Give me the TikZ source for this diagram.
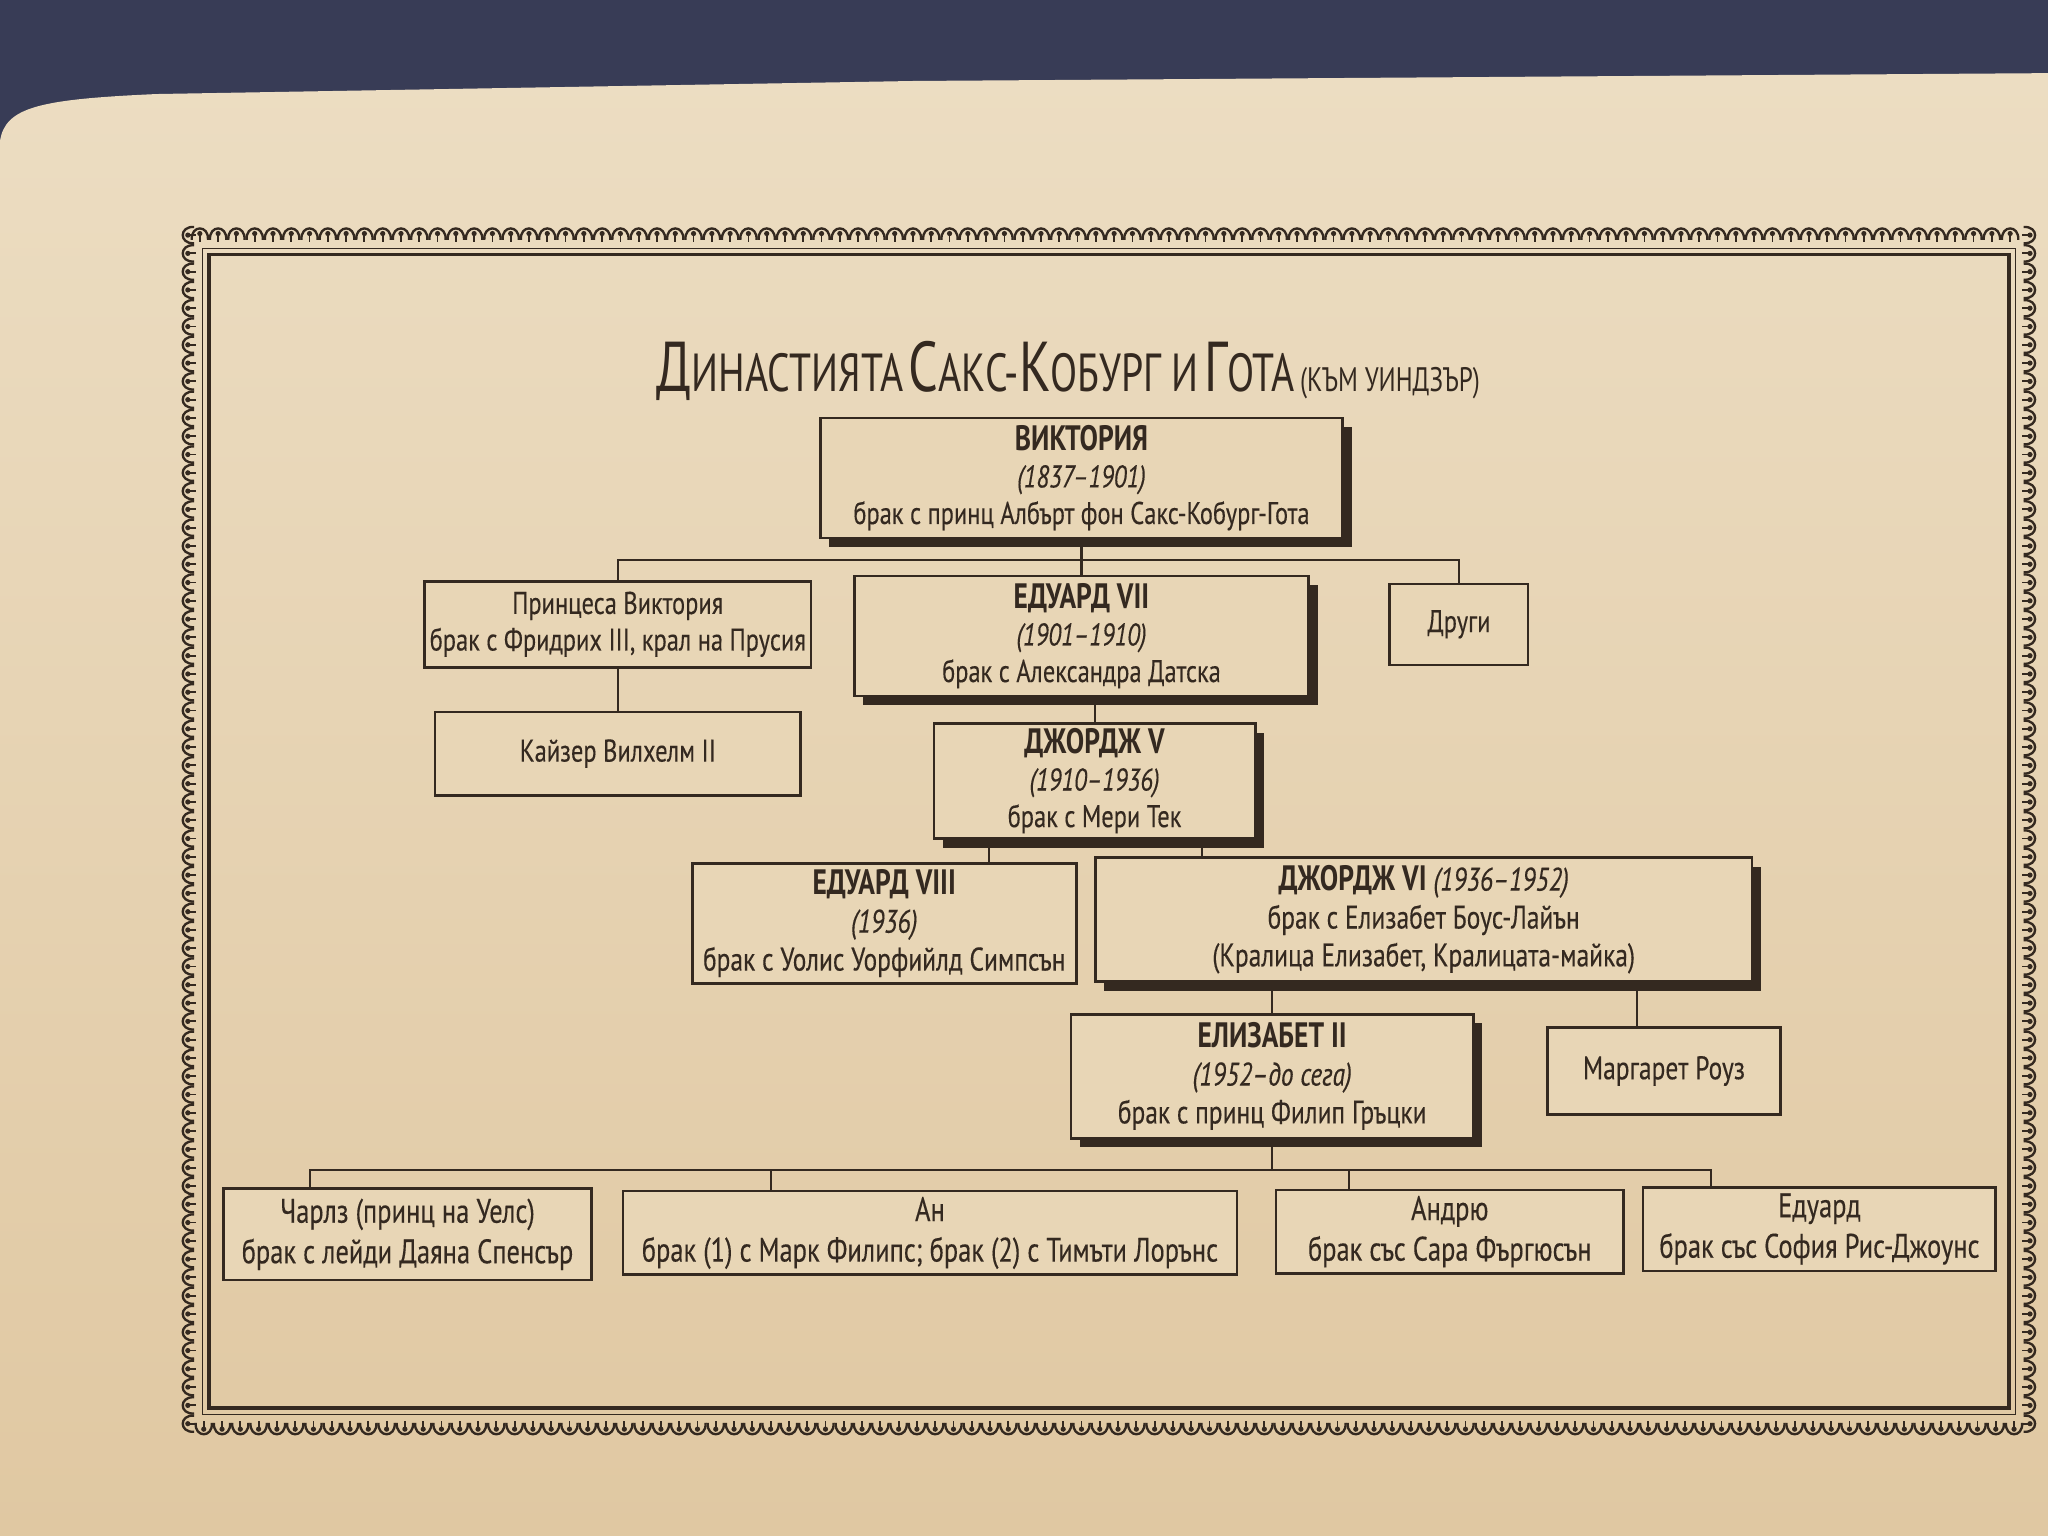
\documentclass[tikz,border=0pt]{standalone}
\usepackage{fontspec}
\setmainfont{PT Sans}[FakeStretch=0.78, UprightFeatures={FakeBold=0.25}, ItalicFeatures={FakeBold=0.25}]
\newfontfamily\titlefont{PT Sans}[FakeStretch=0.74]
\usetikzlibrary{shadows,decorations.markings}
\definecolor{navy}{RGB}{56,60,86}
\definecolor{paperlight}{RGB}{236,221,194}
\definecolor{paperdark}{RGB}{224,200,162}
\definecolor{paper}{RGB}{232,214,182}
\definecolor{ink}{RGB}{52,41,32}
\newcommand\tbig[1]{{\fontsize{27}{27}\selectfont #1}}
\newcommand\tsml[1]{{\fontsize{20.5}{20.5}\selectfont #1}}
\newcommand\ttiny[1]{{\fontsize{13}{13}\selectfont #1}}
\newcommand\hd[1]{{\fontsize{13.5}{14}\selectfont\bfseries #1}}
\begin{document}
\begin{tikzpicture}[x=0.5pt,y=-0.5pt,
  box/.style={draw=ink, line width=1pt, fill=paper, text=ink, align=center,
    font=\fontsize{12}{14}\selectfont, inner sep=0pt},
  shbox/.style={box, drop shadow={shadow xshift=3.5pt, shadow yshift=-3.5pt, opacity=1, fill=ink}},
  midrow/.style={font=\fontsize{12.5}{14.5}\selectfont},
  lowrow/.style={font=\fontsize{13}{15.5}\selectfont},
  link/.style={draw=ink, line width=0.8pt},
  ornament/.style={decoration={markings,
     mark=between positions 0 and 1 step 7pt with {
       \draw[ink, line width=0.9pt] (-3.1pt,1.8pt) .. controls (-3.5pt,-4pt) and (3.5pt,-4pt) .. (3.1pt,1.8pt);
       \fill[ink] (0,-0.6pt) circle (1pt);
       \draw[ink, line width=0.7pt] (0,0) -- (0,2.5pt);
     }}, postaction={decorate}},
]
\useasboundingbox (0,0) rectangle (1568,1176);
% background and page
\fill[navy] (0,0) rectangle (1568,1176);
\shade[top color=paperlight, bottom color=paperdark]
  (0,108) .. controls (4,82) and (30,76) .. (120,72) -- (700,62) -- (1568,56)
  -- (1568,1176) -- (0,1176) -- cycle;
% frame
\draw[ink, line width=1.3pt] (160,195) rectangle (1538,1078);
\draw[ink, line width=0.5pt] (155,190) rectangle (1543,1083);
\path[ornament] (145,180) -- (145,1093) -- (1553,1093) -- (1553,180) -- cycle;
% title
\node[text=ink, font=\titlefont, anchor=base] (title) at (818,300)
  {\tbig{Д}\tsml{ИНАСТИЯТА} \tbig{С}\tsml{АКС-}\tbig{К}\tsml{ОБУРГ И} \tbig{Г}\tsml{ОТА} \ttiny{(КЪМ УИНДЗЪР)}};
% nodes
\node[shbox, minimum width=200pt, minimum height=46pt] (vic) at (828,366)
  {\hd{ВИКТОРИЯ}\\\textit{(1837–1901)}\\брак с принц Албърт фон Сакс-Кобург-Гота};
\node[box, minimum width=148pt, minimum height=33pt] (pv) at (473,478)
  {Принцеса Виктория\\брак с Фридрих III, крал на Прусия};
\node[shbox, minimum width=174pt, minimum height=46pt] (e7) at (828,487)
  {\hd{ЕДУАРД VII}\\\textit{(1901–1910)}\\брак с Александра Датска};
\node[box, minimum width=53pt, minimum height=31pt] (drugi) at (1117,478) {Други};
\node[box, minimum width=140pt, minimum height=32pt] (kaiser) at (473,577) {Кайзер Вилхелм II};
\node[shbox, minimum width=123pt, minimum height=44pt] (g5) at (838,598)
  {\hd{ДЖОРДЖ V}\\\textit{(1910–1936)}\\брак с Мери Тек};
\node[box, midrow, minimum width=147pt, minimum height=46pt] (e8) at (677,707)
  {\hd{ЕДУАРД VIII}\\\textit{(1936)}\\брак с Уолис Уорфийлд Симпсън};
\node[shbox, midrow, minimum width=251.5pt, minimum height=47.5pt] (g6) at (1090,704)
  {\hd{ДЖОРДЖ VI} \textit{(1936–1952)}\\брак с Елизабет Боус-Лайън\\(Кралица Елизабет, Кралицата-майка)};
\node[shbox, midrow, minimum width=154pt, minimum height=47.5pt] (e2) at (974,824)
  {\hd{ЕЛИЗАБЕТ II}\\\textit{(1952–до сега)}\\брак с принц Филип Гръцки};
\node[box, midrow, minimum width=89pt, minimum height=33.5pt] (mr) at (1274,820) {Маргарет Роуз};
\node[box, lowrow, minimum width=141pt, minimum height=35pt] (charles) at (312,945)
  {Чарлз (принц на Уелс)\\брак с лейди Даяна Спенсър};
\node[box, lowrow, minimum width=235pt, minimum height=32pt] (anne) at (712,944)
  {Ан\\брак (1) с Марк Филипс; брак (2) с Тимъти Лорънс};
\node[box, lowrow, minimum width=133pt, minimum height=32pt] (andrew) at (1110,943)
  {Андрю\\брак със Сара Фъргюсън};
\node[box, lowrow, minimum width=135pt, minimum height=32pt] (edward) at (1393,941)
  {Едуард\\брак със София Рис-Джоунс};
% coordinates
\coordinate (bar1) at (828,429);
\coordinate (bar2) at (974,896);
\coordinate (g5e8) at (757,0);
\coordinate (g5g6) at (920,0);
\coordinate (g6mr) at (1253,0);
\coordinate (bcha) at (237,0);
\coordinate (bann) at (590,0);
\coordinate (band) at (1033,0);
\coordinate (bedw) at (1310,0);
% connectors
\draw[link] (vic.south) -- (e7.north);
\draw[link] (pv.north) -- (pv.north |- bar1) -- (drugi.north |- bar1) -- (drugi.north);
\draw[link] (pv.south) -- (kaiser.north);
\draw[link] (e7.south -| g5.north) -- (g5.north);
\draw[link] (g5.south -| g5e8) -- (e8.north -| g5e8);
\draw[link] (g5.south -| g5g6) -- (g6.north -| g5g6);
\draw[link] (g6.south -| e2.north) -- (e2.north);
\draw[link] (g6.south -| g6mr) -- (mr.north -| g6mr);
\draw[link] (e2.south) -- (bar2);
\draw[link] (charles.north -| bcha) -- (bar2 -| bcha) -- (bar2 -| bedw) -- (edward.north -| bedw);
\draw[link] (bar2 -| bann) -- (anne.north -| bann);
\draw[link] (bar2 -| band) -- (andrew.north -| band);
\end{tikzpicture}
\end{document}
